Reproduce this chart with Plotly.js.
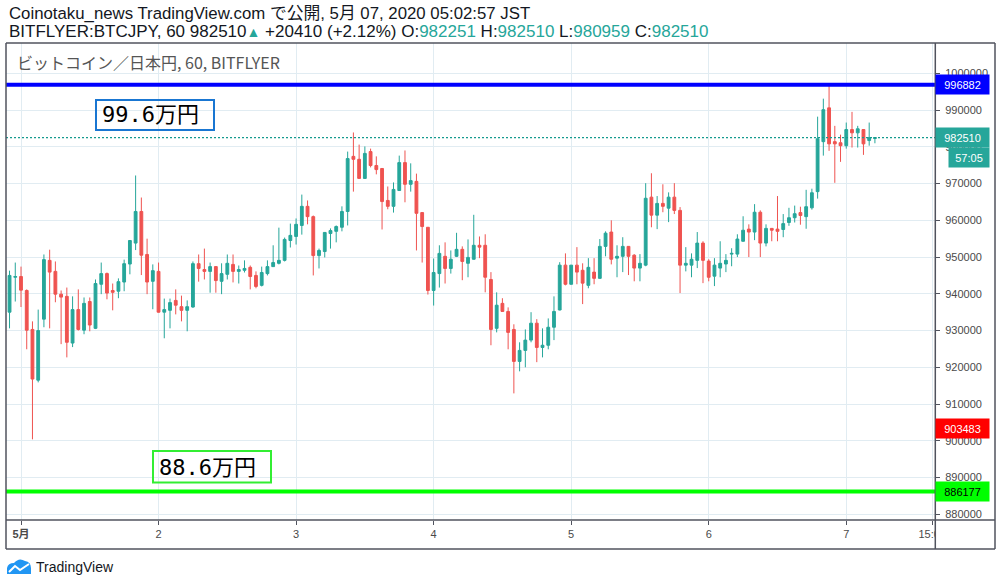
<!DOCTYPE html>
<html><head><meta charset="utf-8">
<script src="https://cdn.plot.ly/plotly-3.0.1.min.js"></script>
<style>html,body{margin:0;padding:0;background:#fff;}#chart{width:1002px;height:586px;}</style>
</head><body><div id="chart"></div>
<script>
// Hourly candles, BITFLYER BTC/JPY, first candle 2020-04-30 22:00 JST
const firstCandle = '2020-04-30 22:00';
const open = [935000,944500,944700,940900,930300,916500,933100,949100,946100,939900,
939300,926600,935700,930100,937900,930600,942600,945500,940900,940700,
943200,948100,953800,962400,950700,943400,946100,935000,935500,938200,
936500,935500,936400,948200,946600,946100,947400,943400,945300,948000,
946100,946400,947200,945000,942300,945500,947400,948300,949100,954500,
955600,958600,963800,961000,950400,951500,956400,957000,958100,962400,
977400,976600,971400,978700,974900,974100,965400,963800,968100,975700,
969800,970600,962100,958100,940900,945500,950200,946900,950200,952100,
948300,949400,953200,953200,943900,930600,937400,935200,930300,921600,
924600,927400,932000,925400,926000,930900,935600,947800,942600,947800,
946400,942300,945900,944200,952900,956800,949700,950200,952900,950500,
947000,947800,966300,961400,964600,963300,966300,962700,947800,947800,
949100,953800,948900,944800,947000,948100,950800,950800,954300,957600,
956800,962200,953800,957800,957600,957500,959400,960700,962100,961000,
963400,967800,981400,990600,981400,981100,980300,984700,983800,984700,
981700,982251];
const high = [946300,948500,947400,941200,932500,935700,950700,952000,948800,940900,
941700,939300,941200,939000,939000,943900,948500,945800,942800,944200,
949300,954600,972200,966200,955000,948000,948500,938700,938700,941200,
939500,938200,948800,950700,952300,948500,947500,948300,950700,950700,
947700,949100,947700,946100,947400,949100,953200,958000,955300,959100,
960500,967000,965400,961300,952300,956800,957800,958600,963800,978700,
983900,980600,980100,979500,977400,974200,969200,970300,977600,979000,
975500,972700,962200,958100,949600,953200,954000,951800,956600,952900,
954800,961500,955600,956200,945900,940400,938800,936300,931700,926800,
930300,935000,933100,930600,933300,939300,948600,951000,947800,952700,
948300,949700,949700,954900,957000,960000,953200,955400,953000,950800,
950800,970100,972800,966600,969800,967600,970100,963600,952700,951000,
956800,954300,949400,949700,954300,950800,952400,956200,961100,958900,
964400,962700,958900,957900,966600,961700,963400,964000,963700,968300,
968600,988200,993100,996800,985700,983300,986600,989500,985700,984700,
986600,982510];
const low = [930600,937900,936400,924900,900400,915900,930900,930600,937700,926300,
922700,925500,930000,929000,929800,930400,939900,938500,935500,938800,
940700,945300,951900,945100,939900,935800,934900,927900,930600,934400,
932500,929800,936200,943300,943900,940300,940300,939900,943900,943100,
942800,945800,941200,941500,942000,945000,947300,948000,948800,952600,
953400,956100,958900,945000,946900,949900,952300,954000,957000,958600,
967800,971300,971300,974400,972500,957500,963000,962100,968000,964900,
967800,951800,948500,939800,936800,941700,942800,945500,950000,943700,
944500,949300,949700,940400,926000,929500,935100,924900,912900,918900,
920000,926800,921400,922700,924900,927400,935500,942300,942500,942600,
937200,941500,942600,944100,950200,948000,944500,945900,945100,943400,
943400,947500,958100,957600,962200,959500,961700,940200,946100,944500,
947000,942900,943400,942100,944500,945900,947500,950000,954200,950000,
954600,950000,952900,954300,954300,955400,958500,959400,958800,957700,
962900,965900,977600,978900,970200,975900,979500,979800,979800,977800,
980300,980959];
const close = [945000,944700,941000,930100,916800,930000,949300,945900,939900,939100,
926800,935700,930300,937400,931500,942800,945500,940200,940400,943300,
948200,954500,962400,950500,943200,946300,935000,935700,937600,936900,
935500,936500,948200,946900,946100,947400,943600,945500,948300,946100,
946600,946900,944700,942000,945800,947400,948500,949100,954800,955900,
958900,963800,961000,950400,951800,956700,957200,958300,962400,976800,
976600,971400,978200,974900,973800,965100,963800,968400,975700,969800,
970800,961900,958300,940900,945800,951000,946900,949400,952100,948800,
949900,953200,952700,944500,930300,936900,935200,929500,921600,924600,
927400,932000,925400,926000,930900,935200,947800,942600,947800,945900,
942900,947200,944200,952900,956500,949400,950200,952900,950200,947000,
948300,966000,961400,964600,963800,966300,962700,947800,948300,949400,
953800,949100,944500,947800,948300,949100,951000,954900,957300,956800,
962200,953800,957800,957300,957000,959100,960700,961800,961300,963700,
967500,982200,990100,980800,980800,980300,984700,983800,984900,980800,
982500,982510];

const xTickVals = ['2020-05-01','2020-05-02','2020-05-03','2020-05-04','2020-05-05','2020-05-06','2020-05-07','2020-05-07 15:00'];
const xTickText = ['<b>5月</b>','2','3','4','5','6','7','15:00'];
const yTickVals = [880000,890000,900000,910000,920000,930000,940000,950000,960000,970000,980000,990000,1000000];

const resistance = 996882, support = 886177, lastPrice = 982510, markerPrice = 903483;
const resistanceLabel = '99.6万円', supportLabel = '88.6万円';
const countdown = '57:05';
const headerLine1 = 'Coinotaku_news TradingView.com で公開, 5月 07, 2020 05:02:57 JST';
const symbolTitle = 'ビットコイン／日本円, 60, BITFLYER';
const ohlcLast = {o: '982251', h: '982510', l: '980959', c: '982510', chg: '+20410 (+2.12%)'};

// build hourly timestamps
function fmt(d){const p=n=>String(n).padStart(2,'0');return d.getUTCFullYear()+'-'+p(d.getUTCMonth()+1)+'-'+p(d.getUTCDate())+' '+p(d.getUTCHours())+':'+p(d.getUTCMinutes());}
const t0 = new Date(firstCandle.replace(' ','T')+':00Z');
const times = close.map((_,i)=>fmt(new Date(t0.getTime()+i*3600000)));

const W=1002,H=586,L=6,R=935,T=43,B=520;
const px = x => (x-L)/(R-L);
const py = y => (B-y)/(B-T);
const TEAL='#26a69a', RED='#ef5350', AX='#50535e';

const trace = {
  type:'candlestick', x: times, open, high, low, close,
  increasing:{line:{color:TEAL,width:1},fillcolor:TEAL},
  decreasing:{line:{color:RED,width:1},fillcolor:RED},
  whiskerwidth:0, hoverinfo:'skip', showlegend:false
};

const shapes = [
  {type:'line',xref:'paper',yref:'y',x0:0,x1:1,y0:resistance,y1:resistance,line:{color:'#0000ff',width:4}},
  {type:'line',xref:'paper',yref:'y',x0:0,x1:1,y0:support,y1:support,line:{color:'#00ff00',width:4}},
  {type:'line',xref:'paper',yref:'y',x0:0,x1:1,y0:lastPrice,y1:lastPrice,line:{color:'#159a8e',width:1.3,dash:'2px,2px'}},
  // label boxes
  {type:'rect',xref:'paper',yref:'paper',x0:px(96),x1:px(214),y0:py(130),y1:py(100),fillcolor:'rgba(255,255,255,0)',line:{color:'#1976d2',width:2},layer:'above'},
  {type:'rect',xref:'paper',yref:'paper',x0:px(153),x1:px(271),y0:py(482.5),y1:py(451),fillcolor:'rgba(255,255,255,0)',line:{color:'#33ee33',width:2},layer:'above'},
  // cover bottom-right corner
  {type:'rect',xref:'paper',yref:'paper',x0:px(935.5),x1:px(1001),y0:py(586),y1:py(520.5),fillcolor:'#ffffff',line:{width:0},layer:'above'},
  // frame
  {type:'line',xref:'paper',yref:'paper',x0:px(6),x1:px(6),y0:py(43),y1:py(549),line:{color:AX,width:1.5},layer:'above'},
  {type:'line',xref:'paper',yref:'paper',x0:px(6),x1:px(995),y0:py(43),y1:py(43),line:{color:AX,width:1.5},layer:'above'},
  {type:'line',xref:'paper',yref:'paper',x0:px(995),x1:px(995),y0:py(43),y1:py(549),line:{color:AX,width:1.5},layer:'above'},
  {type:'line',xref:'paper',yref:'paper',x0:px(6),x1:px(995),y0:py(549),y1:py(549),line:{color:AX,width:1.5},layer:'above'},
  {type:'line',xref:'paper',yref:'paper',x0:px(935.3),x1:px(935.3),y0:py(43),y1:py(549),line:{color:AX,width:1.5},layer:'above'},
  {type:'line',xref:'paper',yref:'paper',x0:px(6),x1:px(995),y0:py(520),y1:py(520),line:{color:AX,width:1.5},layer:'above'},
  // TradingView logo
  {type:'path',xref:'paper',yref:'paper',layer:'above',fillcolor:'#2196f3',line:{width:0},
   path:'M '+px(7)+','+py(574)+' L '+px(7)+','+py(568)+' Q '+px(8)+','+py(563)+' '+px(14)+','+py(563)+' Q '+px(19)+','+py(557)+' '+px(25)+','+py(561)+' Q '+px(31)+','+py(562)+' '+px(31)+','+py(568)+' L '+px(31)+','+py(574)+' Z'},
  {type:'path',xref:'paper',yref:'paper',layer:'above',line:{color:'#ffffff',width:2},
   path:'M '+px(9)+','+py(572)+' L '+px(15)+','+py(566)+' L '+px(20)+','+py(570)+' L '+px(29)+','+py(564)}
];

const tealSpan = s => '<span style="color:'+TEAL+'">'+s+'</span>';
const boxLabel = (y, text, bg, fg, x, w) => ({xref:'paper',yref:'y',x:px(x||935.5),xanchor:'left',y:y,yanchor:'middle',
  text:text,showarrow:false,bgcolor:bg,font:{color:fg,size:11,family:'Liberation Sans, Arial, sans-serif'},
  width:w||49,height:15,borderpad:2,align:'center'});
const HFONT = 'Liberation Sans, Noto Sans CJK JP, sans-serif';

const annotations = [
  {xref:'paper',yref:'paper',x:px(7),xanchor:'left',y:py(14),yanchor:'middle',showarrow:false,
   text:headerLine1,font:{size:16.8,color:'#131722',family:HFONT}},
  {xref:'paper',yref:'paper',x:px(7),xanchor:'left',y:py(32),yanchor:'middle',showarrow:false,
   text:'BITFLYER:BTCJPY, 60 '+lastPrice+tealSpan('<span style="font-size:14px">▲</span>')+' '+ohlcLast.chg+' O:'+tealSpan(ohlcLast.o)+' H:'+tealSpan(ohlcLast.h)+' L:'+tealSpan(ohlcLast.l)+' C:'+tealSpan(ohlcLast.c),
   font:{size:17,color:'#131722',family:HFONT}},
  {xref:'paper',yref:'paper',x:px(15),xanchor:'left',y:py(62),yanchor:'middle',showarrow:false,
   text:symbolTitle,font:{size:16,color:'#555555',family:'Noto Sans CJK JP, Liberation Sans, sans-serif'}},
  {xref:'paper',yref:'paper',x:px(100),xanchor:'left',y:py(115),yanchor:'middle',showarrow:false,
   text:resistanceLabel,font:{size:22,color:'#000000',family:'DejaVu Sans Mono, Noto Sans CJK JP, monospace'}},
  {xref:'paper',yref:'paper',x:px(157),xanchor:'left',y:py(467),yanchor:'middle',showarrow:false,
   text:supportLabel,font:{size:22,color:'#000000',family:'DejaVu Sans Mono, Noto Sans CJK JP, monospace'}},
  boxLabel(resistance, String(resistance), '#0000ff', '#ffffff'),
  boxLabel(lastPrice, String(lastPrice), TEAL, '#ffffff'),
  boxLabel(977100, countdown, TEAL, '#ffffff', 948, 36),
  boxLabel(markerPrice, String(markerPrice), '#ff0000', '#ffffff'),
  boxLabel(support, String(support), '#00ff00', '#000000'),
  {xref:'paper',yref:'paper',x:px(34),xanchor:'left',y:py(567),yanchor:'middle',showarrow:false,
   text:'TradingView',font:{size:14,color:'#131722',family:'Liberation Sans, Arial, sans-serif'}}
];

const layout = {
  width:W,height:H,margin:{l:L,r:W-R,t:T,b:H-B,pad:0},
  paper_bgcolor:'#ffffff',plot_bgcolor:'#ffffff',showlegend:false,
  xaxis:{type:'date',range:['2020-04-30 21:23','2020-05-07 15:29'],rangeslider:{visible:false},
    tickvals:xTickVals,ticktext:xTickText,showgrid:true,gridcolor:'#e1ecf2',gridwidth:1,
    ticks:'outside',ticklen:4,tickcolor:AX,showline:false,zeroline:false,
    tickfont:{size:11,color:'#4a4a4a',family:'Liberation Sans, Noto Sans CJK JP, sans-serif'},fixedrange:true},
  yaxis:{side:'right',range:[878449,1008245],tickvals:yTickVals,ticktext:yTickVals.map(String),
    showgrid:true,gridcolor:'#e1ecf2',gridwidth:1,ticks:'outside',ticklen:4,tickcolor:AX,ticklabelstandoff:3,
    showline:false,zeroline:false,tickfont:{size:11,color:'#4a4a4a',family:'Liberation Sans, Arial, sans-serif'},fixedrange:true},
  shapes:shapes, annotations:annotations
};

Plotly.newPlot('chart',[trace],layout,{displayModeBar:false,staticPlot:true});
</script></body></html>
